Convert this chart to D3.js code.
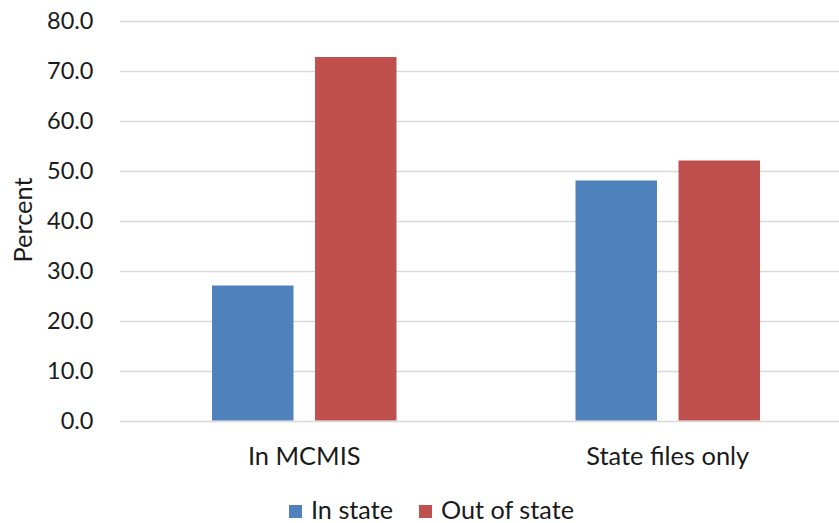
<!DOCTYPE html>
<html><head><meta charset="utf-8">
<script src="https://cdn.jsdelivr.net/npm/d3@7"></script>
<style>body{margin:0;background:#fff}svg{display:block}</style>
</head><body>
<svg id="c" width="839" height="523"></svg>
<script>
const categories = ["In MCMIS", "State files only"];
const seriesNames = ["In state", "Out of state"];
const inState = [27.0, 48.0];
const outOfState = [72.7, 52.0];
const yTicks = [0, 10, 20, 30, 40, 50, 60, 70, 80];
const colors = ["#4F81BD", "#C0504D"];
const FONT = "Lato, Carlito, Calibri, sans-serif";

const svg = d3.select("#c");
const y = d3.scaleLinear().domain([0, 80]).range([420.5, 20.5]);
const x0 = d3.scaleBand().domain(categories).range([122.5, 849.5]).padding(0);
const x1 = d3.scaleBand().domain(seriesNames).range([89.5, x0.bandwidth() - 89.5]).paddingInner(0.209).paddingOuter(0);

const data = categories.map((c, i) => ({cat: c, vals: [inState[i], outOfState[i]]}));

// fit font size so a sample string reaches a target width
function fitSize(sample, target) {
  const t = svg.append("text").style("font-family", FONT).style("font-size", "20px").text(sample);
  const w = t.node().getComputedTextLength();
  t.remove();
  return 20 * target / w;
}
const tickSize = fitSize("80.0", 46.5);
const catSize = fitSize("State files only", 163);
const legSize = fitSize("Out of state", 133);
const titleSize = fitSize("Percent", 85);

// gridlines
svg.append("g").selectAll("line").data(yTicks).join("line")
  .attr("x1", 120).attr("x2", 839)
  .attr("y1", d => Math.round(y(d)) + 0.5).attr("y2", d => Math.round(y(d)) + 0.5)
  .attr("stroke", "#D9D9D9").attr("stroke-width", 1.5);

// y tick labels
svg.append("g").selectAll("text").data(yTicks).join("text")
  .attr("x", 93.5).attr("y", d => y(d)).attr("dy", "0.36em")
  .attr("text-anchor", "end")
  .style("font-family", FONT)
  .style("font-size", tickSize + "px").attr("fill", "#1a1a1a")
  .text(d => d3.format(".1f")(d));

// bars
const g = svg.append("g").selectAll("g").data(data).join("g")
  .attr("transform", d => `translate(${x0(d.cat)},0)`);
g.selectAll("rect").data(d => d.vals.map((v, i) => ({s: seriesNames[i], v, i}))).join("rect")
  .attr("x", d => x1(d.s)).attr("width", x1.bandwidth())
  .attr("y", d => y(d.v)).attr("height", d => y(0) - y(d.v))
  .attr("fill", d => colors[d.i]);

// category labels
svg.append("g").selectAll("text").data(categories).join("text")
  .attr("x", d => x0(d) + x1.range()[0] + (x1.range()[1] - x1.range()[0]) / 2)
  .attr("y", 465).attr("text-anchor", "middle")
  .style("font-family", FONT)
  .style("font-size", catSize + "px").attr("fill", "#1a1a1a")
  .text(d => d);

// y axis title
svg.append("text").attr("transform", "translate(32,220) rotate(-90)")
  .attr("text-anchor", "middle")
  .style("font-family", FONT)
  .style("font-size", titleSize + "px").attr("fill", "#1a1a1a")
  .text("Percent");

// legend
const legX = [289, 419];
const leg = svg.append("g").selectAll("g").data(seriesNames).join("g")
  .attr("transform", (d, i) => `translate(${legX[i]},505)`);
leg.append("rect").attr("width", 13).attr("height", 13).attr("fill", (d, i) => colors[i]);
leg.append("text").attr("x", 22).attr("y", 14)
  .style("font-family", FONT)
  .style("font-size", legSize + "px").attr("fill", "#1a1a1a")
  .text(d => d);
</script>
</body></html>
